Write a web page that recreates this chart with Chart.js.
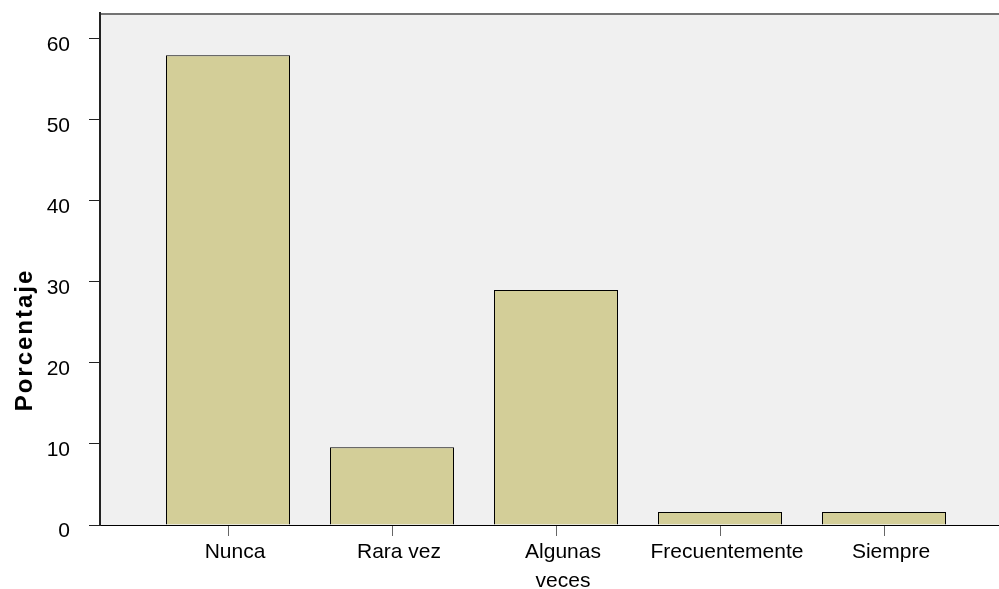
<!DOCTYPE html>
<html lang="es">
<head>
<meta charset="UTF-8">
<title>Porcentaje</title>
<script src="https://cdn.jsdelivr.net/npm/chart.js@4.4.0/dist/chart.umd.min.js"></script>
<style>
  html, body { margin: 0; padding: 0; background: #fff; }
  #wrap { width: 999px; height: 589px; }
</style>
</head>
<body>
<div id="wrap"><canvas id="grafica"></canvas></div>
<script>
// datos
const categorias = ['Nunca', 'Rara vez', ['Algunas', 'veces'], 'Frecuentemente', 'Siempre'];
const porcentajes = [58.0, 9.6, 29.0, 1.6, 1.6];
const ticksY = [0, 10, 20, 30, 40, 50, 60];
const tituloY = 'Porcentaje';

const fuente = '"Liberation Sans", Arial, sans-serif';

// fondo gris del area de trazado + linea superior
const fondo = {
  id: 'fondo',
  beforeDraw(chart) {
    const { ctx, chartArea: a } = chart;
    ctx.save();
    ctx.fillStyle = '#f0f0f0';
    ctx.fillRect(a.left, a.top, a.right - a.left, a.bottom - a.top);
    ctx.strokeStyle = '#737373';
    ctx.lineWidth = 2;
    ctx.beginPath();
    ctx.moveTo(a.left, a.top + 1);
    ctx.lineTo(a.right, a.top + 1);
    ctx.stroke();
    ctx.restore();
  }
};

// titulo del eje Y (SPSS lo deja algo por debajo del centro)
const tituloEje = {
  id: 'tituloEje',
  afterDraw(chart) {
    const { ctx } = chart;
    ctx.save();
    ctx.translate(32, 340);
    ctx.rotate(-Math.PI / 2);
    ctx.font = 'bold 24px ' + fuente;
    ctx.letterSpacing = '2px';
    ctx.fillStyle = '#000';
    ctx.textAlign = 'center';
    ctx.textBaseline = 'alphabetic';
    ctx.fillText(tituloY, 0, 0);
    ctx.restore();
  }
};

const ctx = document.getElementById('grafica').getContext('2d');
new Chart(ctx, {
  type: 'bar',
  data: {
    datasets: [{
      data: porcentajes.map((v, i) => ({ x: i + 1, y: v })),
      backgroundColor: '#d3ce98',
      borderColor: '#000',
      borderWidth: 1,
      borderSkipped: 'bottom',
      barPercentage: 124 / 164,
      categoryPercentage: 1
    }]
  },
  options: {
    responsive: true,
    maintainAspectRatio: false,
    animation: false,
    layout: { padding: { top: 13, left: 0, right: 0, bottom: 0 } },
    plugins: { legend: { display: false }, tooltip: { enabled: false } },
    scales: {
      x: {
        type: 'linear',
        offset: false,
        min: 1 - 128 / 164,
        max: 1 - 128 / 164 + 899 / 164,
        afterBuildTicks: s => { s.ticks = categorias.map((c, i) => ({ value: i + 1 })); },
        afterFit: s => { s.height = 64; s.paddingLeft = 0; s.paddingRight = 0; },
        ticks: {
          callback: (v, i) => categorias[i],
          autoSkip: false,
          maxRotation: 0,
          minRotation: 0,
          color: '#000',
          padding: 2,
          labelOffset: 7,
          font: { family: fuente, size: 21, lineHeight: 1.38 }
        },
        grid: { offset: false, drawOnChartArea: false, drawTicks: true, tickLength: 11, tickColor: '#666' },
        border: { color: '#000', width: 1 }
      },
      y: {
        min: 0,
        max: 63.2,
        afterBuildTicks: s => { s.ticks = ticksY.map(v => ({ value: v })); },
        afterFit: s => { s.width = 100; s.paddingTop = 0; s.paddingBottom = 0; },
        ticks: {
          color: '#000',
          padding: 19,
          labelOffset: 6,
          font: { family: fuente, size: 21 }
        },
        grid: { drawOnChartArea: false, drawTicks: true, tickLength: 11, tickColor: '#222' },
        border: { color: '#222', width: 2 }
      }
    }
  },
  plugins: [fondo, tituloEje]
});
</script>
</body>
</html>
